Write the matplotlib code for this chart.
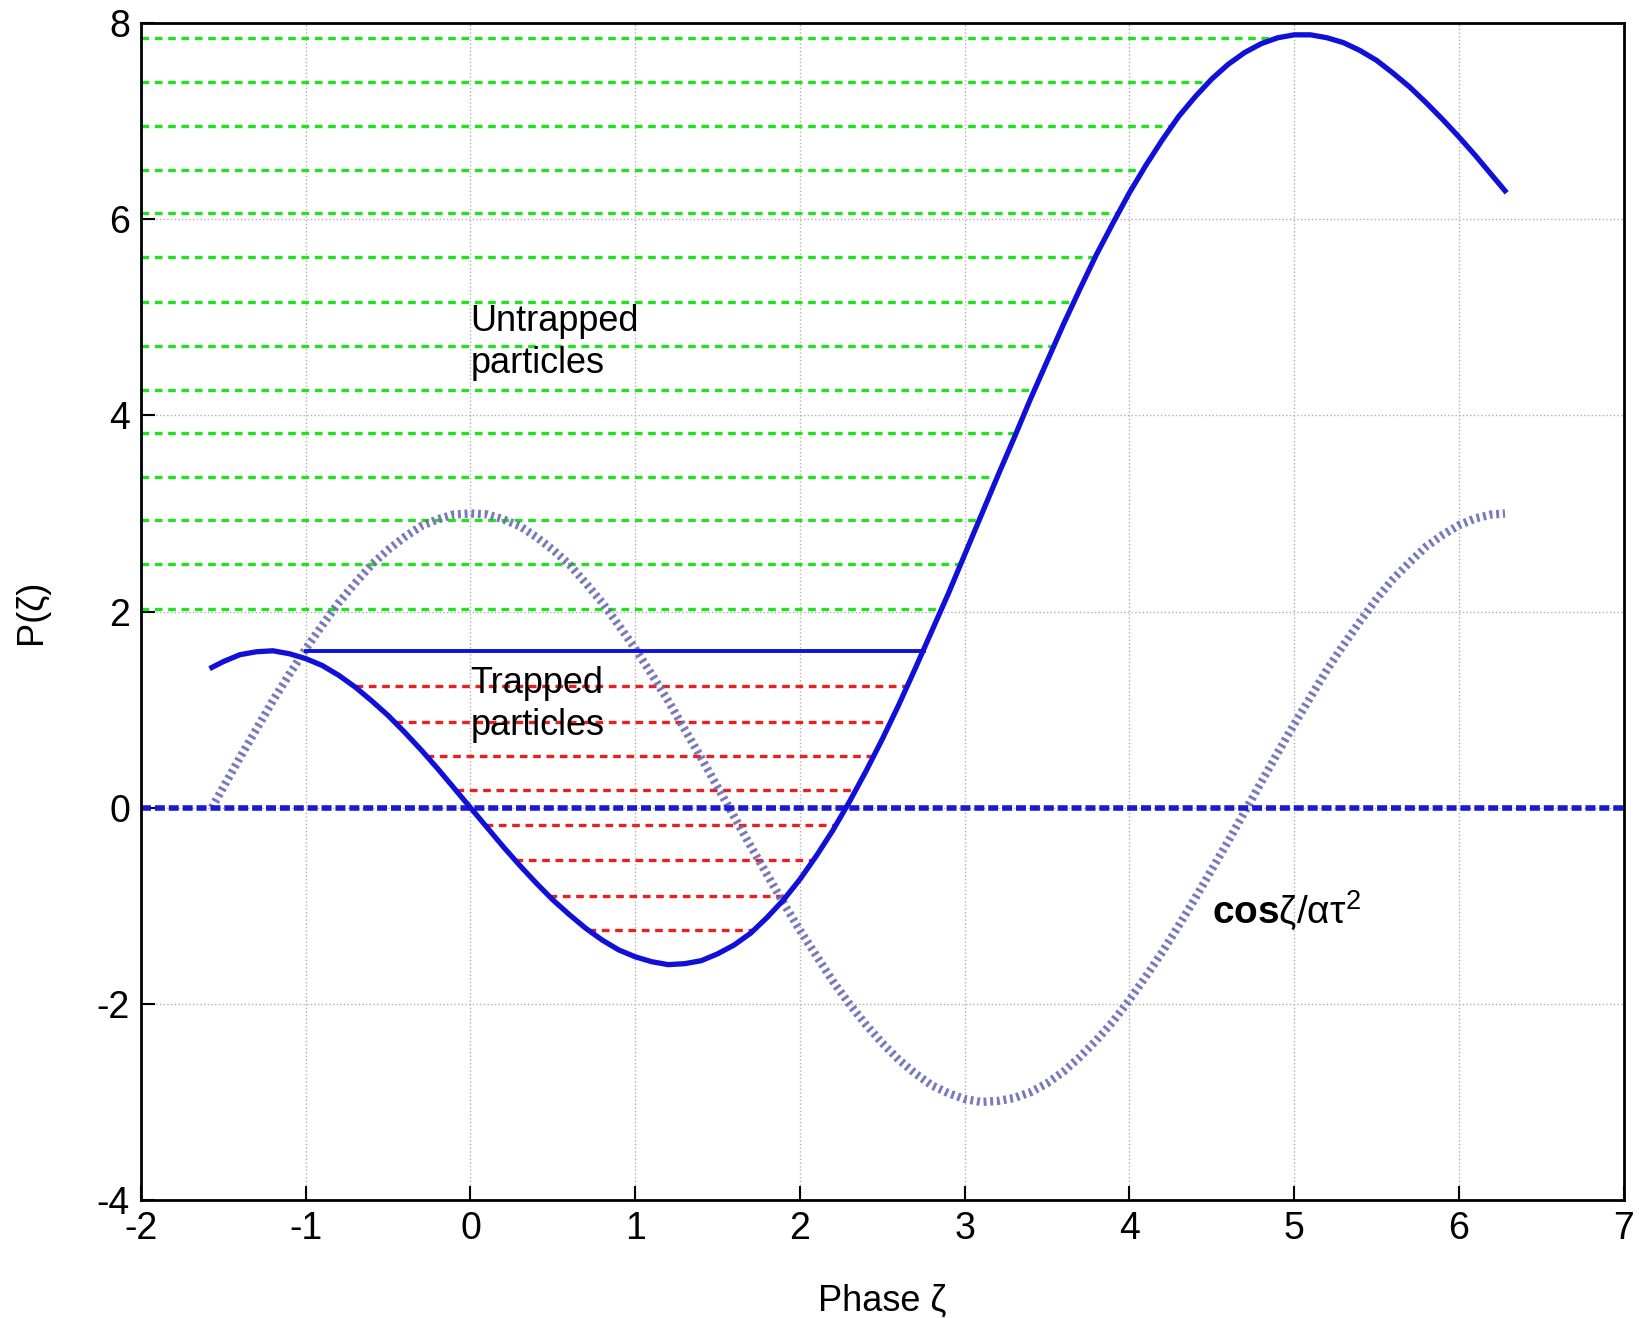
import matplotlib
matplotlib.use("Agg")
import matplotlib.pyplot as plt

plt.rcParams['font.family'] = ['Liberation Sans', 'DejaVu Sans']
plt.rcParams['mathtext.fontset'] = 'custom'
plt.rcParams['mathtext.rm'] = 'Liberation Sans'
plt.rcParams['mathtext.bf'] = 'Liberation Sans:bold'
plt.rcParams['axes.unicode_minus'] = False

# phase values
zeta = [-1.57, -1.5, -1.4, -1.3, -1.2, -1.1, -1.0, -0.9, -0.8, -0.7, -0.6,
        -0.5, -0.4, -0.3, -0.2, -0.1, 0.0, 0.1, 0.2, 0.3, 0.4, 0.5, 0.6, 0.7,
        0.8, 0.9, 1.0, 1.1, 1.2, 1.3, 1.4, 1.5, 1.6, 1.7, 1.8, 1.9, 2.0, 2.1,
        2.2, 2.3, 2.4, 2.5, 2.6, 2.7, 2.8, 2.9, 3.0, 3.1, 3.2, 3.3, 3.4, 3.5,
        3.6, 3.7, 3.8, 3.9, 4.0, 4.1, 4.2, 4.3, 4.4, 4.5, 4.6, 4.7, 4.8, 4.9,
        5.0, 5.1, 5.2, 5.3, 5.4, 5.5, 5.6, 5.7, 5.8, 5.9, 6.0, 6.1, 6.2, 6.28]

# P(zeta) solid blue curve
p_curve = [1.43, 1.49, 1.56, 1.59, 1.60, 1.57, 1.52, 1.45, 1.35, 1.23, 1.09,
           0.94, 0.77, 0.59, 0.40, 0.20, 0.00, -0.20, -0.40, -0.59, -0.77,
           -0.94, -1.09, -1.23, -1.35, -1.45, -1.52, -1.57, -1.60, -1.59,
           -1.56, -1.49, -1.40, -1.28, -1.12, -0.94, -0.73, -0.49, -0.23, 0.06,
           0.37, 0.70, 1.05, 1.42, 1.80, 2.18, 2.58, 2.98, 3.38, 3.77, 4.17,
           4.55, 4.93, 5.29, 5.64, 5.96, 6.27, 6.55, 6.81, 7.05, 7.25, 7.43,
           7.58, 7.70, 7.79, 7.85, 7.88, 7.88, 7.85, 7.80, 7.72, 7.62, 7.49,
           7.35, 7.19, 7.02, 6.84, 6.65, 6.45, 6.29]

# cos(zeta)/(alpha tau^2) curve
cos_curve = [0.00, 0.21, 0.51, 0.80, 1.09, 1.36, 1.62, 1.86, 2.09, 2.29, 2.48,
             2.63, 2.76, 2.87, 2.94, 2.99, 3.00, 2.99, 2.94, 2.87, 2.76, 2.63,
             2.48, 2.29, 2.09, 1.86, 1.62, 1.36, 1.09, 0.80, 0.51, 0.21, -0.09,
             -0.39, -0.68, -0.97, -1.25, -1.51, -1.77, -2.00, -2.21, -2.40,
             -2.57, -2.71, -2.83, -2.91, -2.97, -3.00, -2.99, -2.96, -2.90,
             -2.81, -2.69, -2.54, -2.37, -2.18, -1.96, -1.72, -1.47, -1.20,
             -0.92, -0.63, -0.34, -0.04, 0.26, 0.56, 0.85, 1.13, 1.41, 1.66,
             1.90, 2.13, 2.33, 2.50, 2.66, 2.78, 2.88, 2.95, 2.99, 3.00]

# separatrix level and its ends
sep_level = 1.60
sep_x = [-1.0, 2.75]

# untrapped orbits (green): level and right end on the curve
green_levels = [7.85, 7.40, 6.95, 6.50, 6.06, 5.61, 5.16, 4.71, 4.26, 3.82,
                3.37, 2.93, 2.48, 2.03]
green_ends = [4.90, 4.48, 4.26, 4.08, 3.93, 3.79, 3.665, 3.54, 3.425, 3.31,
              3.20, 3.09, 2.975, 2.86]

# trapped orbits (red): level, left and right ends
red_levels = [1.24, 0.875, 0.53, 0.18, -0.18, -0.53, -0.90, -1.25]
red_left = [-0.70, -0.46, -0.27, -0.09, 0.09, 0.27, 0.477, 0.715]
red_right = [2.65, 2.55, 2.45, 2.34, 2.215, 2.08, 1.92, 1.72]

fig = plt.figure(figsize=(16.4, 13.18), dpi=100)
ax = fig.add_axes([0.086, 0.0895, 0.904, 0.893])

ax.grid(True, color='#b0b0b0', linestyle=':', linewidth=1.0)
ax.set_axisbelow(True)

for lv, xe in zip(green_levels, green_ends):
    ax.plot([-2, xe], [lv, lv], color='#22e022', lw=2.4, dashes=(2.3, 1.7))

for lv, xl, xr in zip(red_levels, red_left, red_right):
    ax.plot([xl, xr], [lv, lv], color='#e82020', lw=2.4, dashes=(2.3, 1.7))

ax.plot(zeta, cos_curve, color='#6a6ab4', lw=6, dashes=(0.35, 0.45), alpha=0.9)

ax.axhline(0, color='#1a1ad0', lw=4, dashes=(1.8, 0.7))

ax.plot(sep_x, [sep_level, sep_level], color='#1010d8', lw=2.8)
ax.plot(zeta, p_curve, color='#1010d8', lw=3.8, solid_joinstyle='round')

ax.text(0.0, 4.74, 'Untrapped\nparticles', fontsize=26, va='center', ha='left',
        linespacing=1.25)
ax.text(0.0, 1.05, 'Trapped\nparticles', fontsize=26, va='center', ha='left',
        linespacing=1.25)
ax.text(4.5, -1.04, r'$\mathbf{cos}\mathrm{\zeta/\alpha\tau}^2$', fontsize=28,
        va='center', ha='left')

ax.set_xlim(-2, 7)
ax.set_ylim(-4, 8)
ax.set_xticks(range(-2, 8))
ax.set_yticks(range(-4, 9, 2))
ax.tick_params(direction='in', length=10, width=1.5, labelsize=27, pad=8)
for s in ax.spines.values():
    s.set_linewidth(2)

ax.set_xlabel('Phase ζ', fontsize=26, labelpad=26)
ax.set_ylabel('P(ζ)', fontsize=26, labelpad=34)

fig.savefig('out.png', dpi=100)
